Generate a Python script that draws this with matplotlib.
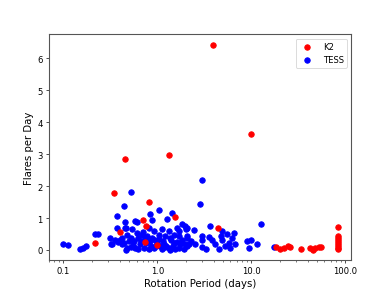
import numpy as np
import matplotlib
matplotlib.use("Agg")
import matplotlib.pyplot as plt
from matplotlib.ticker import FormatStrFormatter, NullFormatter

# K2 sample: rotation period (days), flares per day
k2_period = [3.91, 9.8, 0.449, 1.32, 0.343, 0.82, 0.70, 0.76, 1.55, 0.73, 0.98,
             0.40, 0.215, 4.42,
             18.5, 20.4, 22.1, 24.3, 25.5, 33.8, 42.4, 45.3, 48.0, 52.0, 55.0,
             82.8, 82.8, 82.8, 82.8, 82.8, 82.8, 82.8, 82.8, 82.8]
k2_rate = [6.43, 3.64, 2.86, 2.98, 1.79, 1.51, 0.94, 0.77, 1.03, 0.25, 0.15,
           0.57, 0.23, 0.70,
           0.09, 0.04, 0.07, 0.12, 0.10, 0.04, 0.07, 0.02, 0.07, 0.09, 0.10,
           0.72, 0.45, 0.38, 0.32, 0.26, 0.20, 0.14, 0.08, 0.03]

# TESS sample
tess_period = [0.098, 0.111, 0.152, 0.160, 0.174, 0.219, 0.236, 0.31, 0.33, 0.32,
               0.35, 0.37, 0.37, 0.44, 0.52, 0.45, 0.45, 0.40, 0.42, 0.46,
               0.58, 0.88, 1.03, 1.43, 1.27, 0.84, 1.83, 1.62, 1.99, 0.54,
               0.81, 0.91, 1.12, 1.32, 1.69, 0.48, 0.61, 0.69, 1.03, 1.49,
               2.07, 0.42, 0.52, 0.63, 0.78, 0.88, 1.22, 1.37, 1.69, 1.83,
               0.44, 0.56, 0.66, 0.84, 0.99, 1.17, 1.49, 1.76, 1.99, 0.48,
               0.58, 0.72, 0.91, 1.08, 1.32, 1.69, 2.07, 0.46, 0.63, 0.81,
               1.12, 1.37, 1.55, 1.91, 0.60, 0.70, 2.03,
               2.87, 2.99, 2.07, 2.44, 3.66, 2.98, 2.98, 3.52, 3.82, 4.80,
               4.87, 4.87, 6.5, 6.2, 6.75, 5.74, 5.3, 9.0, 10.0, 9.36,
               2.15, 2.54, 2.98, 4.14, 2.07, 3.3, 4.5, 6.0, 12.8, 11.6,
               17.6, 2.3, 5.5,
               0.38, 0.50, 0.55, 0.67, 0.75, 0.86, 0.95, 1.05, 1.15, 1.25,
               1.40, 1.60, 1.80, 0.53, 0.74, 0.97, 1.20, 1.45]
tess_rate = [0.20, 0.16, 0.04, 0.07, 0.13, 0.50, 0.51, 0.39, 0.20, 0.18,
             0.32, 1.08, 0.70, 1.38, 1.83, 0.89, 0.68, 0.33, 0.18, 0.70,
             0.91, 0.93, 1.27, 1.17, 0.98, 1.12, 0.82, 0.70, 0.75, 0.65,
             0.70, 0.59, 0.65, 0.59, 0.59, 0.49, 0.54, 0.49, 0.49, 0.49,
             0.44, 0.39, 0.39, 0.39, 0.44, 0.39, 0.44, 0.39, 0.44, 0.33,
             0.23, 0.28, 0.18, 0.28, 0.23, 0.18, 0.23, 0.18, 0.18, 0.07,
             0.07, 0.07, 0.07, 0.12, 0.07, 0.07, 0.12, 0.02, 0.03, 0.04,
             0.03, 0.02, 0.04, 0.03, 0.88, 0.56, 0.67,
             1.45, 2.18, 0.70, 0.62, 0.75, 0.44, 0.33, 0.41, 0.33, 0.44,
             0.33, 0.60, 0.54, 0.39, 0.18, 0.23, 0.13, 0.30, 0.33, 0.07,
             0.18, 0.20, 0.09, 0.18, 0.39, 0.05, 0.05, 0.08, 0.83, 0.18,
             0.09, 0.30, 0.50,
             0.25, 0.30, 0.15, 0.30, 0.22, 0.14, 0.33, 0.36, 0.28, 0.12,
             0.31, 0.26, 0.24, 0.10, 0.34, 0.13, 0.09, 0.14]

fig, ax = plt.subplots(figsize=(6.4, 4.8), dpi=61)

ax.scatter(k2_period, k2_rate, color='r', s=42, label='K2', zorder=3)
ax.scatter(tess_period, tess_rate, color='b', s=42, label='TESS', zorder=2)

ax.set_xscale('log')
ax.xaxis.set_major_formatter(FormatStrFormatter('%.1f'))
ax.xaxis.set_minor_formatter(NullFormatter())

for sp in ax.spines.values():
    sp.set_color('#555555')
    sp.set_linewidth(1.3)

ax.set_xlabel('Rotation Period (days)', fontsize=12)
ax.set_ylabel('Flares per Day', fontsize=12)
ax.legend(loc='upper right')

fig.savefig('out.png', dpi=61)
